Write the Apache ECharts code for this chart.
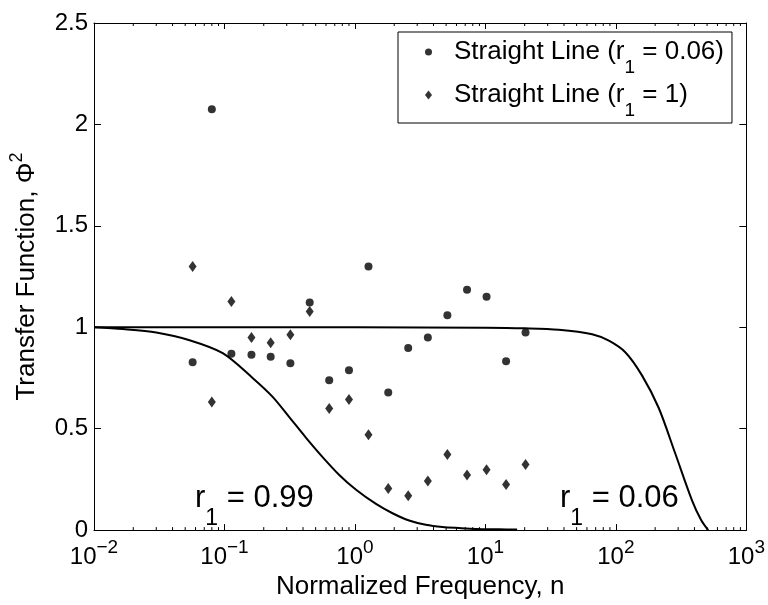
<!DOCTYPE html>
<html><head><meta charset="utf-8">
<script src="https://cdn.jsdelivr.net/npm/echarts@6/dist/echarts.min.js"></script>
<style>html,body{margin:0;padding:0;background:#fff}#c{width:768px;height:605px}</style>
</head><body><div id="c"></div>
<script>
// ---- data ----
const freq = [0.057, 0.080, 0.113, 0.161, 0.226, 0.320, 0.450, 0.635, 0.90, 1.27, 1.80, 2.56, 3.62, 5.11, 7.23, 10.2, 14.4, 20.3];
const phiR006 = [0.828, 2.075, 0.869, 0.864, 0.854, 0.822, 1.122, 0.739, 0.788, 1.299, 0.678, 0.898, 0.950, 1.059, 1.185, 1.151, 0.832, 0.974];
const phiR1 = [1.299, 0.631, 1.127, 0.950, 0.924, 0.963, 1.078, 0.600, 0.644, 0.470, 0.205, 0.169, 0.242, 0.373, 0.272, 0.298, 0.225, 0.324];

const curve099N = [0.01, 0.0167, 0.030, 0.054, 0.097, 0.165, 0.234, 0.314, 0.422, 0.565, 0.758, 1.02, 1.45, 1.94, 2.6, 3.49, 4.68, 6.28, 8.4, 12.7, 17.5];
const curve099Phi = [1.0, 0.991, 0.974, 0.936, 0.872, 0.749, 0.657, 0.557, 0.455, 0.360, 0.272, 0.199, 0.129, 0.083, 0.047, 0.026, 0.015, 0.010, 0.006, 0.004, 0.003];

const curve006N = [0.01, 0.1, 1, 10, 20, 36.5, 65.8, 88.3, 118, 158, 213, 286, 383, 450, 510];
const curve006Phi = [1.0, 1.0, 1.0, 0.998, 0.995, 0.988, 0.966, 0.934, 0.877, 0.764, 0.602, 0.375, 0.147, 0.05, 0.0];

const xTickExps = [-2, -1, 0, 1, 2, 3];
const yTicks = [0, 0.5, 1, 1.5, 2, 2.5];
const legendLabels = [['Straight Line (r', '1', ' = 0.06)'], ['Straight Line (r', '1', ' = 1)']];
const annotations = [['r', '1', ' = 0.99'], ['r', '1', ' = 0.06']];
const xTitle = 'Normalized Frequency, n';
const yTitle = ['Transfer Function, \u03A6', '2'];

// minor tick positions of the log axis (2..9 x 10^e)
const minorTicks = [];
for (let e = xTickExps[0]; e < xTickExps[xTickExps.length - 1]; e++) {
  for (let k = 2; k <= 9; k++) minorTicks.push([k * Math.pow(10, e), 0]);
}

const FONT = "'Liberation Sans', Arial, Helvetica, sans-serif";
const chart = echarts.init(document.getElementById('c'), null, {renderer: 'canvas'});

const tickRich = {
  b: {fontSize: 24, fontFamily: FONT, color: '#000', lineHeight: 31, verticalAlign: 'bottom'},
  p: {fontSize: 19, fontFamily: FONT, color: '#000', lineHeight: 19, verticalAlign: 'top'}
};

const xAxisCommon = {
  type: 'log', logBase: 10, min: 0.01, max: 1000,
  axisLine: {show: true, onZero: false, lineStyle: {color: '#000', width: 1}},
  axisTick: {show: true, inside: true, length: 6, lineStyle: {color: '#000', width: 1}},
  splitLine: {show: false}, minorTick: {show: false}
};
const yAxisCommon = {
  type: 'value', min: 0, max: 2.5, interval: 0.5,
  axisLine: {show: true, onZero: false, lineStyle: {color: '#000', width: 1}},
  axisTick: {show: true, inside: true, length: 7, lineStyle: {color: '#000', width: 1}},
  splitLine: {show: false}
};

const option = {
  backgroundColor: '#fff',
  animation: false,
  grid: {left: 94, right: 21, top: 23, bottom: 68, containLabel: false},
  xAxis: [
    Object.assign({}, xAxisCommon, {
      position: 'bottom',
      name: xTitle, nameLocation: 'middle', nameGap: 41,
      nameTextStyle: {fontSize: 26, fontFamily: FONT, color: '#000'},
      axisLabel: {
        show: true, margin: 8, hideOverlap: false, showMinLabel: true, showMaxLabel: true,
        formatter: v => '{b|10}{p|' + Math.round(Math.log10(v)).toString().replace('-', '\u2212') + '}',
        rich: tickRich
      }
    }),
    Object.assign({}, xAxisCommon, {position: 'top', axisLabel: {show: false}})
  ],
  yAxis: [
    Object.assign({}, yAxisCommon, {
      position: 'left',
      name: '{a|' + yTitle[0] + '}{s|' + yTitle[1] + '}', nameLocation: 'middle', nameGap: 54,
      nameTextStyle: {
        rich: {
          a: {fontSize: 26, fontFamily: FONT, color: '#000', lineHeight: 32, verticalAlign: 'bottom'},
          s: {fontSize: 18, fontFamily: FONT, color: '#000', lineHeight: 18, verticalAlign: 'top'}
        }
      },
      axisLabel: {show: true, margin: 6, fontSize: 24, fontFamily: FONT, color: '#000',
        formatter: v => String(v)}
    }),
    Object.assign({}, yAxisCommon, {position: 'right', axisLabel: {show: false}})
  ],
  legend: {
    show: true, orient: 'vertical', left: 398, top: 32,
    padding: [7, 8, 3, 27], itemGap: 5,
    itemWidth: 7, itemHeight: 9,
    backgroundColor: '#fff', borderColor: '#000', borderWidth: 1, borderRadius: 0,
    data: [{name: 'r006', icon: 'circle'}, {name: 'r1', icon: 'diamond'}],
    itemStyle: {color: '#000'},
    formatter: name => {
      const l = legendLabels[name === 'r006' ? 0 : 1];
      return '{g| }{t|' + l[0] + '}{s|' + l[1] + '}{t|' + l[2] + '}';
    },
    textStyle: {
      rich: {
        g: {width: 17, fontSize: 26, lineHeight: 26, verticalAlign: 'top'},
        t: {fontSize: 26, fontFamily: FONT, color: '#000', lineHeight: 26, verticalAlign: 'top'},
        s: {fontSize: 19, fontFamily: FONT, color: '#000', lineHeight: 19, verticalAlign: 'top', padding: [19, 0, 0, 0]}
      }
    }
  },
  series: [
    {
      name: 'minorTicks', type: 'custom', xAxisIndex: 0, yAxisIndex: 0, silent: true, clip: false,
      data: minorTicks, encode: {x: 0, y: 1},
      renderItem: (params, api) => {
        const v = api.value(0);
        const b = api.coord([v, yTicks[0]]);
        const t = api.coord([v, yTicks[yTicks.length - 1]]);
        return {type: 'group', children: [
          {type: 'line', shape: {x1: b[0], y1: b[1], x2: b[0], y2: b[1] - 3}, style: {stroke: '#000', lineWidth: 1}},
          {type: 'line', shape: {x1: t[0], y1: t[1], x2: t[0], y2: t[1] + 3}, style: {stroke: '#000', lineWidth: 1}}
        ]};
      }
    },
    {
      name: 'curve099', type: 'line', showSymbol: false, smooth: 0.3, silent: true,
      data: curve099N.map((n, i) => [n, curve099Phi[i]]),
      lineStyle: {color: '#000', width: 2}, itemStyle: {color: '#000'}
    },
    {
      name: 'curve006', type: 'line', showSymbol: false, smooth: 0.3, silent: true,
      data: curve006N.map((n, i) => [n, curve006Phi[i]]),
      lineStyle: {color: '#000', width: 2}, itemStyle: {color: '#000'}
    },
    {
      name: 'r006', type: 'scatter', symbol: 'circle', symbolSize: 8,
      data: freq.map((f, i) => [f, phiR006[i]]),
      itemStyle: {color: '#000'}
    },
    {
      name: 'r1', type: 'scatter', symbol: 'diamond', symbolSize: [8, 11],
      data: freq.map((f, i) => [f, phiR1[i]]),
      itemStyle: {color: '#000'}
    }
  ],
  graphic: annotations.map((a, i) => ({
    type: 'text', left: i === 0 ? 195 : 560, top: 483, silent: true,
    style: {
      text: '{m|' + a[0] + '}{s|' + a[1] + '}{m|' + a[2] + '}',
      rich: {
        m: {fontSize: 31, fontFamily: FONT, fill: '#000', lineHeight: 32, verticalAlign: 'top'},
        s: {fontSize: 23, fontFamily: FONT, fill: '#000', lineHeight: 23, verticalAlign: 'top', padding: [24, 0, 0, 0]}
      }
    }
  }))
};
chart.setOption(option);
</script>
</body></html>
